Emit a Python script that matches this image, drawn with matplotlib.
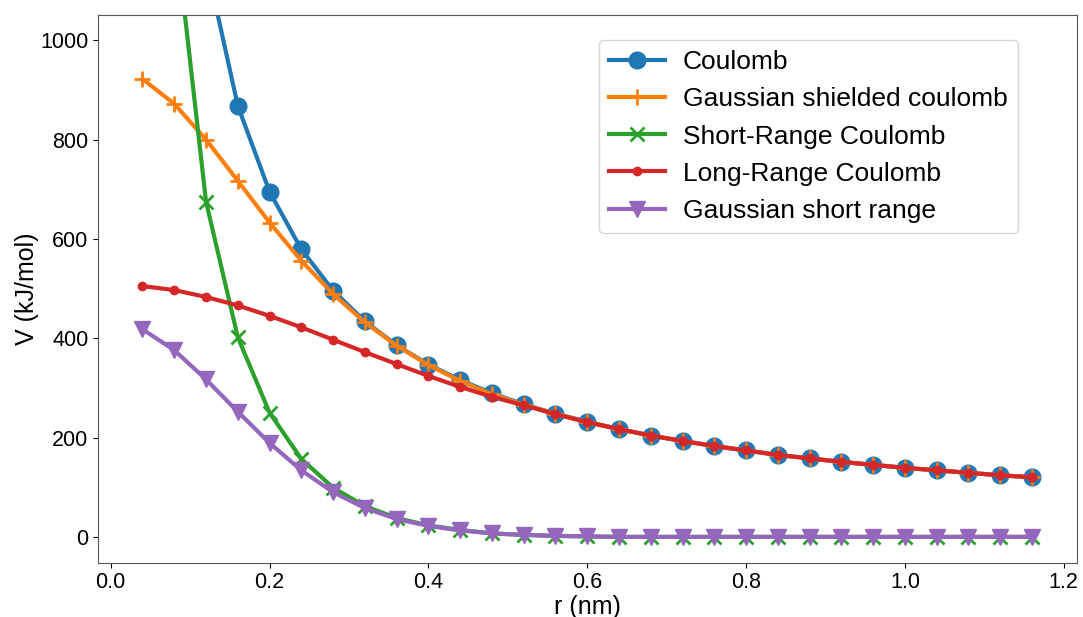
import numpy as np
import matplotlib
matplotlib.use('Agg')
import matplotlib.pyplot as plt

plt.rcParams['font.family'] = ['Liberation Sans', 'DejaVu Sans']

# r grid (nm)
r = [0.04, 0.08, 0.12, 0.16, 0.20, 0.24, 0.28, 0.32, 0.36, 0.40,
     0.44, 0.48, 0.52, 0.56, 0.60, 0.64, 0.68, 0.72, 0.76, 0.80,
     0.84, 0.88, 0.92, 0.96, 1.00, 1.04, 1.08, 1.12, 1.16]

coulomb = [3473, 1737, 1158, 868, 695, 579, 496, 434, 386, 347,
           316, 289, 267, 248, 232, 217, 204, 193, 183, 174,
           165, 158, 151, 145, 139, 134, 129, 124, 120]

gauss_shielded = [922, 872, 800, 717, 633, 556, 489, 432, 385, 346,
                  314, 287, 266, 248, 231, 217, 204, 193, 183, 174,
                  165, 158, 151, 145, 139, 134, 129, 124, 120]

short_range = [2968, 1240, 675, 402, 250, 157, 99, 62, 38, 23,
               14, 7, 4, 2, 1, 0, 0, 0, 0, 0,
               0, 0, 0, 0, 0, 0, 0, 0, 0]

long_range = [505, 497, 483, 466, 445, 422, 397, 372, 348, 324,
              302, 282, 265, 247, 231, 217, 204, 193, 183, 174,
              165, 158, 151, 145, 139, 134, 129, 124, 120]

gauss_short = [418, 376, 317, 252, 189, 134, 90, 58, 36, 22,
               13, 7, 4, 2, 1, 0, 0, 0, 0, 0,
               0, 0, 0, 0, 0, 0, 0, 0, 0]

fig = plt.figure(figsize=(10.83, 6.17), dpi=100)
ax = fig.add_subplot(111)

ax.plot(r, coulomb, marker='o', markersize=12, lw=3, label='Coulomb')
ax.plot(r, gauss_shielded, marker='+', markersize=12, mew=2, lw=3, label='Gaussian shielded coulomb')
ax.plot(r, short_range, marker='x', markersize=10, mew=2, lw=3, label='Short-Range Coulomb')
ax.plot(r, long_range, marker='.', markersize=12, lw=3, label='Long-Range Coulomb')
ax.plot(r, gauss_short, marker='v', markersize=12, lw=3, label='Gaussian short range')

ax.set_ylim(-52, 1050)
ax.set_xlabel('r (nm)', fontsize=18, labelpad=1)
ax.set_ylabel('V (kJ/mol)', fontsize=18, labelpad=1)
ax.tick_params(labelsize=15.5)
for s in ax.spines.values():
    s.set_color('#555555')

ax.legend(loc='upper right', fontsize=19, bbox_to_anchor=(0.954, 0.98),
          handlelength=2.1, handletextpad=0.7, borderpad=0.4)

plt.subplots_adjust(left=0.0905, right=0.994, top=0.975, bottom=0.088)
fig.savefig('out.png')
